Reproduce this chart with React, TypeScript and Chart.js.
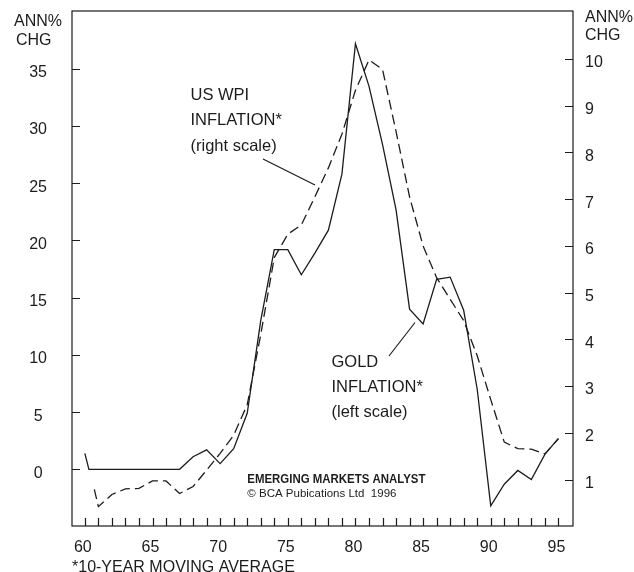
import React, { useEffect, useRef } from 'react';
import { Chart, registerables } from 'chart.js';

Chart.register(...registerables);

// ---- data ----
const goldYears = [60, 60.3, 61, 62, 63, 64, 65, 66, 67, 68, 69, 70, 71, 72, 73, 74, 75, 76, 77, 78, 79, 80, 81, 82, 83, 84, 85, 86, 87, 88, 89, 90, 91, 92, 93, 94, 95];
const goldValues = [1.4, 0, 0, 0, 0, 0, 0, 0, 0, 1.1, 1.7, 0.5, 1.8, 4.9, 13.0, 19.2, 19.2, 17.0, 18.9, 20.9, 25.8, 37.2, 33.5, 28.4, 22.7, 14.0, 12.7, 16.6, 16.8, 13.9, 7.0, -3.2, -1.3, -0.1, -0.9, 1.3, 2.7];

const wpiYears = [60.7, 61, 62, 63, 64, 65, 66, 67, 68, 69, 70, 71, 72, 73, 74, 75, 76, 77, 78, 79, 80, 81, 82, 83, 84, 85, 86, 87, 88, 89, 90, 91, 92, 93, 94, 95];
const wpiValues = [0.79, 0.42, 0.68, 0.8, 0.81, 0.97, 0.97, 0.7, 0.85, 1.2, 1.56, 1.95, 2.6, 4.1, 5.75, 6.25, 6.45, 7.05, 7.67, 8.39, 9.33, 9.98, 9.78, 8.45, 7.05, 6.0, 5.32, 4.86, 4.4, 3.65, 2.71, 1.8, 1.66, 1.65, 1.55, 1.87];

const xTickYears = [60, 61, 62, 63, 64, 65, 66, 67, 68, 69, 70, 71, 72, 73, 74, 75, 76, 77, 78, 79, 80, 81, 82, 83, 84, 85, 86, 87, 88, 89, 90, 91, 92, 93, 94, 95];
const xLabelYears = [60, 65, 70, 75, 80, 85, 90, 95];
const leftTicks = [0, 5, 10, 15, 20, 25, 30, 35];
const rightTicks = [1, 2, 3, 4, 5, 6, 7, 8, 9, 10];

const INK = '#1c1c1c';
const FONT = '"Liberation Sans", Arial, Helvetica, sans-serif';

const zeroPad = (s: any) => {
  s.paddingTop = 0;
  s.paddingBottom = 0;
  s.paddingLeft = 0;
  s.paddingRight = 0;
};

const decor = {
  id: 'decor',
  afterDraw(chart: any) {
    const { ctx, chartArea: a, scales } = chart;
    ctx.save();
    ctx.strokeStyle = INK;
    ctx.lineWidth = 1.2;
    ctx.strokeRect(a.left, a.top, a.right - a.left, a.bottom - a.top);
    ctx.beginPath();
    scales.x.ticks.forEach((t: any) => {
      const px = Math.round(scales.x.getPixelForValue(t.value)) + 0.5;
      ctx.moveTo(px, a.bottom);
      ctx.lineTo(px, a.bottom - 8);
    });
    scales.y.ticks.forEach((t: any) => {
      const py = Math.round(scales.y.getPixelForValue(t.value)) + 0.5;
      ctx.moveTo(a.left, py);
      ctx.lineTo(a.left + 8, py);
    });
    scales.y1.ticks.forEach((t: any) => {
      const py = Math.round(scales.y1.getPixelForValue(t.value)) + 0.5;
      ctx.moveTo(a.right, py);
      ctx.lineTo(a.right - 8, py);
    });
    // leader lines
    ctx.moveTo(263, 159);
    ctx.lineTo(315, 185);
    ctx.moveTo(389, 356);
    ctx.lineTo(415, 322.5);
    ctx.stroke();

    ctx.fillStyle = INK;
    ctx.textBaseline = 'alphabetic';
    ctx.textAlign = 'left';
    ctx.font = `16px ${FONT}`;
    ctx.fillText('ANN%', 14, 26);
    ctx.fillText('CHG', 16, 44.5);
    ctx.fillText('ANN%', 585, 22);
    ctx.fillText('CHG', 585, 40);
    ctx.fillText('*10-YEAR MOVING AVERAGE', 72, 571.5);

    ctx.font = `16.5px ${FONT}`;
    ctx.fillText('US WPI', 190.5, 100);
    ctx.fillText('INFLATION*', 190.5, 125.3);
    ctx.fillText('(right scale)', 190.5, 150.7);
    ctx.fillText('GOLD', 331.5, 366.7);
    ctx.fillText('INFLATION*', 331.5, 391.7);
    ctx.fillText('(left scale)', 331.5, 417);

    ctx.save();
    ctx.translate(247.3, 483.3);
    ctx.scale(0.88, 1);
    ctx.font = `bold 13px ${FONT}`;
    ctx.fillText('EMERGING MARKETS ANALYST', 0, 0);
    ctx.restore();
    ctx.font = `11.5px ${FONT}`;
    ctx.fillText('\u00A9 BCA Pubications Ltd  1996', 247.3, 496.5);
    ctx.restore();
  },
};

export default function App() {
  const ref = useRef<HTMLCanvasElement | null>(null);

  useEffect(() => {
    if (!ref.current) return;
    const chart = new Chart(ref.current, {
      type: 'line',
      data: {
        datasets: [
          {
            label: 'Gold inflation',
            data: goldYears.map((x, i) => ({ x, y: goldValues[i] })),
            yAxisID: 'y',
            borderColor: INK,
            borderWidth: 1.3,
            pointRadius: 0,
            tension: 0,
            fill: false,
          },
          {
            label: 'US WPI inflation',
            data: wpiYears.map((x, i) => ({ x, y: wpiValues[i] })),
            yAxisID: 'y1',
            borderColor: INK,
            borderWidth: 1.3,
            borderDash: [10, 5],
            pointRadius: 0,
            tension: 0,
            fill: false,
          },
        ],
      },
      options: {
        responsive: false,
        animation: false,
        devicePixelRatio: 1,
        layout: { padding: { top: 11, left: 0, right: 0, bottom: 0 } },
        plugins: { legend: { display: false }, tooltip: { enabled: false } },
        scales: {
          x: {
            type: 'linear',
            position: 'bottom',
            min: 59.05,
            max: 96.08,
            grid: { display: false, drawTicks: false },
            border: { display: false },
            afterBuildTicks: (s: any) => {
              s.ticks = xTickYears.map((v) => ({ value: v }));
            },
            afterFit: (s: any) => {
              s.height = 46;
              zeroPad(s);
            },
            ticks: {
              autoSkip: false,
              maxRotation: 0,
              minRotation: 0,
              padding: 12,
              labelOffset: -2,
              color: INK,
              font: { family: FONT, size: 16 },
              callback: (v: any) => (xLabelYears.includes(Number(v)) ? String(v) : ''),
            },
          },
          y: {
            type: 'linear',
            position: 'left',
            min: -4.956,
            max: 40.06,
            grid: { display: false, drawTicks: false },
            border: { display: false },
            afterBuildTicks: (s: any) => {
              s.ticks = leftTicks.map((v) => ({ value: v }));
            },
            afterFit: (s: any) => {
              s.width = 72;
              zeroPad(s);
            },
            ticks: {
              crossAlign: 'center',
              padding: 25,
              labelOffset: 4,
              color: INK,
              font: { family: FONT, size: 16 },
              callback: (v: any) => String(v),
            },
          },
          y1: {
            type: 'linear',
            position: 'right',
            min: 0.005,
            max: 11.028,
            grid: { display: false, drawTicks: false },
            border: { display: false },
            afterBuildTicks: (s: any) => {
              s.ticks = rightTicks.map((v) => ({ value: v }));
            },
            afterFit: (s: any) => {
              s.width = 61;
              zeroPad(s);
            },
            ticks: {
              crossAlign: 'near',
              padding: 12,
              labelOffset: 4,
              color: INK,
              font: { family: FONT, size: 16 },
              callback: (v: any) => String(v),
            },
          },
        },
      } as any,
      plugins: [decor],
    });
    return () => chart.destroy();
  }, []);

  return (
    <div style={{ position: 'fixed', left: 0, top: 0, width: 634, height: 572, background: '#fff' }}>
      <canvas ref={ref} width={634} height={572} style={{ display: 'block' }} />
    </div>
  );
}
